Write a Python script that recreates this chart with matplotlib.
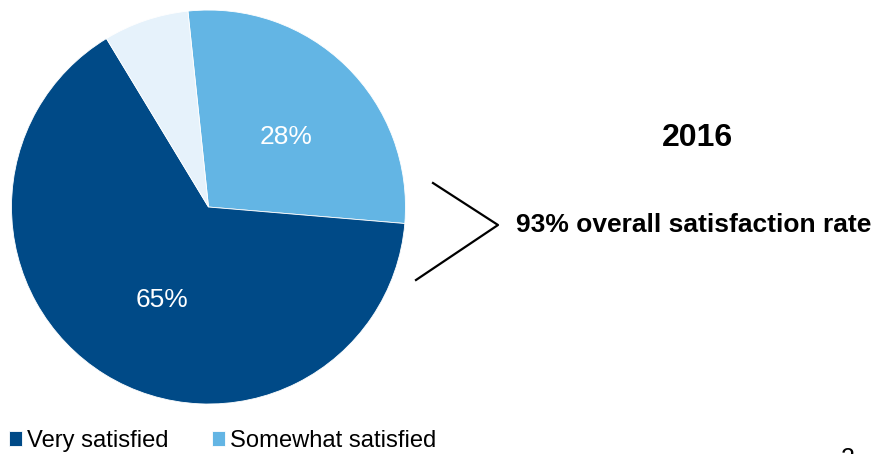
import matplotlib.pyplot as plt
from matplotlib.lines import Line2D

plt.rcParams['font.family'] = ['Liberation Sans', 'DejaVu Sans']

# data
labels = ["Somewhat satisfied", "Very satisfied", "Other"]
values = [28, 65, 7]
colors = ["#63b5e4", "#004a87", "#e6f2fb"]
year = "2016"
summary = "93% overall satisfaction rate"

fig = plt.figure(figsize=(8.89, 4.54), dpi=100)

# pie axes placed so the circle sits where the reference has it
ax = fig.add_axes([0.01294, 0.1101, 0.4432, 0.8678])
wedges, texts, autotexts = ax.pie(
    values, colors=colors, startangle=96, counterclock=False,
    autopct=lambda p: f'{p:.0f}%' if p > 10 else '',
    pctdistance=0.53, radius=1,
    wedgeprops=dict(edgecolor='white', linewidth=0.6),
    textprops=dict(color='white', fontsize=19))
# nudge labels to where the reference puts them
autotexts[0].set_position((0.393, 0.355))
autotexts[1].set_position((-0.236, -0.472))
ax.set_xlim(-1, 1)
ax.set_ylim(-1, 1)
ax.axis('off')

# bracket
W, H = 889, 454
bx = [433 / W, 498 / W, 416 / W]
by = [1 - 183 / H, 1 - 225 / H, 1 - 280 / H]
fig.add_artist(Line2D(bx, by, color='black', linewidth=1.6, transform=fig.transFigure))

fig.text(697 / W, 1 - 138 / H, year, fontsize=23, fontweight='bold', ha='center', va='center')
fig.text(516 / W, 1 - 225 / H, summary, fontsize=19, fontweight='bold', ha='left', va='center')

# legend: Very satisfied first
fig.legend([wedges[1], wedges[0]], [labels[1], labels[0]], loc='center left',
           bbox_to_anchor=(4 / W, 1 - 441 / H), ncol=2, frameon=False,
           fontsize=17.1, handlelength=0.55, handleheight=0.55, handletextpad=0.2,
           columnspacing=1.85, borderpad=0.2, borderaxespad=0.0)

# page number, cut off at the bottom as in the reference
fig.text(848 / W, 1 - 459 / H, "2", fontsize=18, ha='center', va='center')

fig.savefig('out.png', dpi=100)
